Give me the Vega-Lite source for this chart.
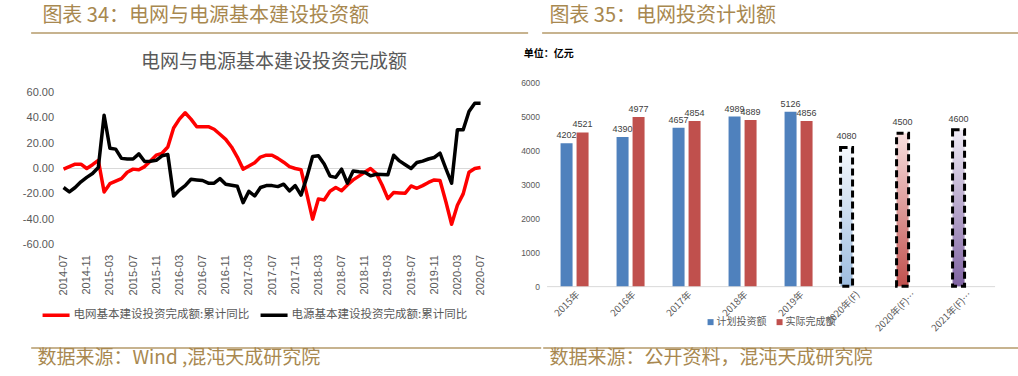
{
"$schema": "https://vega.github.io/schema/vega-lite/v6.json",
"background": "white",
"padding": {"left": 3, "top": 6, "right": 0, "bottom": 0},
"config": {"view": {"stroke": null}, "font": "Noto Sans CJK SC",
  "locale": {"number": {"decimal": ".", "thousands": ",", "grouping": [3], "currency": ["", ""], "minus": "-"}}},
"spacing": 15,
"center": true,
"vconcat": [
 {"hconcat": [
   {"data": {"values": [{}]}, "width": 497, "height": 1,
    "title": {"text": "图表 34：电网与电源基本建设投资额", "anchor": "start", "fontSize": 20, "fontWeight": "normal", "color": "#a8884f", "offset": 6, "dx": 12},
    "mark": {"type": "rule", "color": "#b49a6a", "strokeWidth": 1.5},
    "encoding": {"y": {"datum": 0, "type": "quantitative", "scale": {"domain": [0, 1]}, "axis": null}}},
   {"data": {"values": [{}]}, "width": 484, "height": 1,
    "title": {"text": "图表 35：电网投资计划额", "anchor": "start", "fontSize": 20, "fontWeight": "normal", "color": "#a8884f", "offset": 6, "dx": 8},
    "mark": {"type": "rule", "color": "#b49a6a", "strokeWidth": 1.5},
    "encoding": {"y": {"datum": 0, "type": "quantitative", "scale": {"domain": [0, 1]}, "axis": null}}}
  ], "spacing": 12},
 {"spacing": 14, "center": true, "vconcat": [
  {"hconcat": [
   {"width": 417, "height": 152,
    "title": {"text": "电网与电源基本建设投资完成额", "fontSize": 19, "fontWeight": "normal", "color": "#595959", "offset": 15, "dx": 2},
    "data": {"values": [
{"月份":"2014-07","电网":-0.5,"电源":-15},
{"月份":"2014-08","电网":1.5,"电源":-18.5},
{"月份":"2014-09","电网":3.4,"电源":-15},
{"月份":"2014-10","电网":3.4,"电源":-10.5},
{"月份":"2014-11","电网":0,"电源":-7},
{"月份":"2014-12","电网":3,"电源":-4},
{"月份":"2015-01","电网":6.5,"电源":0.8},
{"月份":"2015-02","电网":-18.5,"电源":42},
{"月份":"2015-03","电网":-12,"电源":16},
{"月份":"2015-04","电网":-10,"电源":15.3},
{"月份":"2015-05","电网":-8,"电源":8},
{"月份":"2015-06","电网":-3,"电源":7.5},
{"月份":"2015-07","电网":-0.5,"电源":7.5},
{"月份":"2015-08","电网":-1,"电源":11.5},
{"月份":"2015-09","电网":1.5,"电源":5.5},
{"月份":"2015-10","电网":6,"电源":5.8},
{"月份":"2015-11","电网":10.5,"电源":6.5},
{"月份":"2015-12","电网":12,"电源":10},
{"月份":"2016-01","电网":17,"电源":11},
{"月份":"2016-02","电网":32,"电源":-21.7},
{"月份":"2016-03","电网":39,"电源":-17},
{"月份":"2016-04","电网":44,"电源":-13.5},
{"月份":"2016-05","电网":39,"电源":-8.5},
{"月份":"2016-06","电网":33,"电源":-9},
{"月份":"2016-07","电网":33,"电源":-9.5},
{"月份":"2016-08","电网":33,"电源":-11.6},
{"月份":"2016-09","电网":31,"电源":-11.6},
{"月份":"2016-10","电网":27,"电源":-8},
{"月份":"2016-11","电网":23,"电源":-12.4},
{"月份":"2016-12","电网":17,"电源":-13.2},
{"月份":"2017-01","电网":9,"电源":-14},
{"月份":"2017-02","电网":-0.5,"电源":-27},
{"月份":"2017-03","电网":2,"电源":-18},
{"月份":"2017-04","电网":4.5,"电源":-21.7},
{"月份":"2017-05","电网":9,"电源":-15},
{"月份":"2017-06","电网":10.5,"电源":-13.5},
{"月份":"2017-07","电网":10.5,"电源":-13.5},
{"月份":"2017-08","电网":8,"电源":-14.3},
{"月份":"2017-09","电网":5,"电源":-12.4},
{"月份":"2017-10","电网":1.5,"电源":-17.7},
{"月份":"2017-11","电网":0,"电源":-13.5},
{"月份":"2017-12","电网":-1,"电源":-21},
{"月份":"2018-01","电网":-20,"电源":-7},
{"月份":"2018-02","电网":-40,"电源":9.5},
{"月份":"2018-03","电网":-24,"电源":10},
{"月份":"2018-04","电网":-24.8,"电源":3.5},
{"月份":"2018-05","电网":-18,"电源":-6},
{"月份":"2018-06","电网":-15,"电源":-7},
{"月份":"2018-07","电网":-17.5,"电源":-0.5},
{"月份":"2018-08","电网":-13,"电源":-11.6},
{"月份":"2018-09","电网":-9,"电源":-2},
{"月份":"2018-10","电网":-6,"电源":-2.6},
{"月份":"2018-11","电网":-3,"电源":-3},
{"月份":"2018-12","电网":0,"电源":-5.8},
{"月份":"2019-01","电网":-4,"电源":-4.5},
{"月份":"2019-02","电网":-13,"电源":-4.8},
{"月份":"2019-03","电网":-23.8,"电源":-5},
{"月份":"2019-04","电网":-19,"电源":10.5},
{"月份":"2019-05","电网":-19.3,"电源":6},
{"月份":"2019-06","电网":-19.5,"电源":3},
{"月份":"2019-07","电网":-13.8,"电源":0},
{"月份":"2019-08","电网":-15.6,"电源":4.7},
{"月份":"2019-09","电网":-13.5,"电源":5.8},
{"月份":"2019-10","电网":-11,"电源":7.5},
{"月份":"2019-11","电网":-9,"电源":8.7},
{"月份":"2019-12","电网":-9.5,"电源":12.1},
{"月份":"2020-01","电网":-26,"电源":0},
{"月份":"2020-02","电网":-44,"电源":-11.6},
{"月份":"2020-03","电网":-29,"电源":30.6},
{"月份":"2020-04","电网":-20,"电源":30.6},
{"月份":"2020-05","电网":-3,"电源":45},
{"月份":"2020-06","电网":0,"电源":51.5},
{"月份":"2020-07","电网":0.8,"电源":51.5}
    ]},
    "transform": [{"fold": ["电网", "电源"], "as": ["系列", "同比"]}],
    "layer": [
     {"mark": {"type": "rule", "color": "#d9d9d9", "strokeWidth": 1},
      "encoding": {"y": {"datum": 0, "type": "quantitative",
        "scale": {"domain": [-60, 60], "nice": false, "zero": false},
        "axis": {"title": null, "values": [-60,-40,-20,0,20,40,60], "format": ".2f", "minExtent": 60,
          "domain": false, "ticks": false, "grid": false, "labelPadding": 10, "labelFont": "Liberation Sans", "labelFontSize": 11, "labelColor": "#595959"}}}},
     {"mark": {"type": "line", "strokeWidth": 3.5, "strokeJoin": "round"},
      "encoding": {
      "x": {"field": "月份", "type": "ordinal", "sort": null,
        "scale": {"type": "point", "padding": 0},
        "axis": {"title": null,
          "values": ["2014-07","2014-11","2015-03","2015-07","2015-11","2016-03","2016-07","2016-11","2017-03","2017-07","2017-11","2018-03","2018-07","2018-11","2019-03","2019-07","2019-11","2020-03","2020-07"],
          "domain": false, "ticks": false,
          "labelAngle": -90, "labelPadding": 10, "labelFont": "Liberation Sans", "labelFontSize": 11, "labelColor": "#595959", "grid": false}},
      "y": {"field": "同比", "type": "quantitative",
        "scale": {"domain": [-60, 60], "nice": false, "zero": false},
        "axis": {"title": null, "values": [-60,-40,-20,0,20,40,60], "format": ".2f", "minExtent": 60,
          "domain": false, "ticks": false, "grid": false, "labelPadding": 10, "labelFont": "Liberation Sans", "labelFontSize": 11, "labelColor": "#595959"}},
      "color": {"field": "系列", "type": "nominal",
        "scale": {"domain": ["电网", "电源"], "range": ["#ff0000", "#000000"]},
        "legend": {"title": null, "orient": "none", "legendX": -23, "legendY": 207, "direction": "horizontal",
          "symbolType": "stroke", "symbolSize": 729, "symbolStrokeWidth": 3.5,
          "labelFontSize": 11.5, "labelColor": "#595959", "labelLimit": 400,
          "labelExpr": "datum.label + '基本建设投资完成额:累计同比'", "columnPadding": 4, "labelOffset": 2, "padding": 0}}
      }}
    ]},
   {"width": 448, "height": 204,
    "title": {"text": "单位：亿元", "anchor": "start", "fontSize": 10, "fontWeight": "bold", "color": "#000000", "baseline": "bottom", "offset": 9, "dx": 3},
    "data": {"values": [
      {"年份": "2015年", "类型": "计划投资额", "投资额": 4202},
      {"年份": "2015年", "类型": "实际完成额", "投资额": 4521},
      {"年份": "2016年", "类型": "计划投资额", "投资额": 4390},
      {"年份": "2016年", "类型": "实际完成额", "投资额": 4977},
      {"年份": "2017年", "类型": "计划投资额", "投资额": 4657},
      {"年份": "2017年", "类型": "实际完成额", "投资额": 4854},
      {"年份": "2018年", "类型": "计划投资额", "投资额": 4989},
      {"年份": "2018年", "类型": "实际完成额", "投资额": 4889},
      {"年份": "2019年", "类型": "计划投资额", "投资额": 5126},
      {"年份": "2019年", "类型": "实际完成额", "投资额": 4856},
      {"年份": "2020年(F)", "类型": "预测", "投资额": 4080},
      {"年份": "2020年(F)…", "类型": "预测", "投资额": 4500},
      {"年份": "2021年(F)…", "类型": "预测", "投资额": 4600}
    ]},
    "encoding": {
      "x": {"field": "年份", "type": "nominal", "sort": null,
        "scale": {"domain": ["2015年","2016年","2017年","2018年","2019年","2020年(F)","2020年(F)…","2021年(F)…"], "paddingInner": 0.5, "paddingOuter": 0.25},
        "axis": {"title": null, "labelAngle": -45, "labelFontSize": 9.5, "labelColor": "#595959", "domainColor": "#d9d9d9", "ticks": false, "labelPadding": 3}},
      "y": {"field": "投资额", "type": "quantitative", "scale": {"domain": [0, 6000], "nice": false},
        "axis": {"title": null, "values": [0,1000,2000,3000,4000,5000,6000], "format": "d", "domain": false, "ticks": false, "grid": false,
          "labelFont": "Liberation Sans", "labelFontSize": 8.5, "labelColor": "#595959", "labelPadding": 7}}
    },
    "layer": [
      {"transform": [{"filter": {"not": {"field": "类型", "equal": "预测"}}}],
       "mark": {"type": "bar"},
       "encoding": {
         "xOffset": {"field": "类型", "type": "nominal", "scale": {"domain": ["计划投资额", "实际完成额"], "paddingInner": 0.25}},
         "color": {"field": "类型", "type": "nominal", "scale": {"domain": ["计划投资额", "实际完成额"], "range": ["#4f81bd", "#c0504d"]},
           "legend": {"title": null, "orient": "none", "legendX": 159, "legendY": 235, "direction": "horizontal",
             "symbolType": "square", "symbolSize": 36, "labelFontSize": 10, "labelColor": "#595959",
             "columnPadding": 8, "labelOffset": 1, "padding": 0}}}},
      {"transform": [{"filter": {"not": {"field": "类型", "equal": "预测"}}}],
       "mark": {"type": "text", "baseline": "bottom", "dy": -3, "font": "Liberation Sans", "fontSize": 9, "color": "#404040"},
       "encoding": {
         "xOffset": {"field": "类型", "type": "nominal"},
         "text": {"field": "投资额", "type": "quantitative", "format": "d"}}},
      {"transform": [{"filter": {"field": "年份", "equal": "2020年(F)"}}],
       "mark": {"type": "bar", "stroke": "#000000", "strokeWidth": 3, "strokeDash": [7, 4],
         "fill": {"gradient": "linear", "x1": 0, "y1": 0, "x2": 0, "y2": 1, "stops": [{"offset": 0, "color": "#f5f8fc"}, {"offset": 1, "color": "#9dbde0"}]}},
       "encoding": {"xOffset": {"datum": "计划投资额", "type": "nominal"}}},
      {"transform": [{"filter": {"field": "年份", "equal": "2020年(F)…"}}],
       "mark": {"type": "bar", "stroke": "#000000", "strokeWidth": 3, "strokeDash": [7, 4],
         "fill": {"gradient": "linear", "x1": 0, "y1": 0, "x2": 0, "y2": 1, "stops": [{"offset": 0, "color": "#f8e0e0"}, {"offset": 1, "color": "#c0504d"}]}},
       "encoding": {"xOffset": {"datum": "计划投资额", "type": "nominal"}}},
      {"transform": [{"filter": {"field": "年份", "equal": "2021年(F)…"}}],
       "mark": {"type": "bar", "stroke": "#000000", "strokeWidth": 3, "strokeDash": [7, 4],
         "fill": {"gradient": "linear", "x1": 0, "y1": 0, "x2": 0, "y2": 1, "stops": [{"offset": 0, "color": "#efebf5"}, {"offset": 1, "color": "#8064a2"}]}},
       "encoding": {"xOffset": {"datum": "计划投资额", "type": "nominal"}}},
      {"transform": [{"filter": {"field": "类型", "equal": "预测"}}],
       "mark": {"type": "text", "baseline": "bottom", "dy": -6, "font": "Liberation Sans", "fontSize": 9, "color": "#404040"},
       "encoding": {
         "xOffset": {"datum": "计划投资额", "type": "nominal"},
         "text": {"field": "投资额", "type": "quantitative", "format": "d"}}}
    ]}
  ], "spacing": 35, "center": true,
  "resolve": {"scale": {"color": "independent", "xOffset": "independent"}, "legend": {"color": "independent"}}},
  {"hconcat": [
   {"data": {"values": [{}]}, "width": 510, "height": 1,
    "title": {"text": "数据来源：Wind ,混沌天成研究院", "orient": "bottom", "anchor": "start", "fontSize": 19, "fontWeight": "normal", "color": "#a8884f", "offset": 0, "dx": 7},
    "mark": {"type": "rule", "color": "#b49a6a", "strokeWidth": 1.5},
    "encoding": {"y": {"datum": 1, "type": "quantitative", "scale": {"domain": [0, 1]}, "axis": null}}},
   {"data": {"values": [{}]}, "width": 483, "height": 1,
    "title": {"text": "数据来源：公开资料，混沌天成研究院", "orient": "bottom", "anchor": "start", "fontSize": 19, "fontWeight": "normal", "color": "#a8884f", "offset": 0, "dx": 7},
    "mark": {"type": "rule", "color": "#b49a6a", "strokeWidth": 1.5},
    "encoding": {"y": {"datum": 1, "type": "quantitative", "scale": {"domain": [0, 1]}, "axis": null}}}
  ], "spacing": 0}
 ]}
]
}
